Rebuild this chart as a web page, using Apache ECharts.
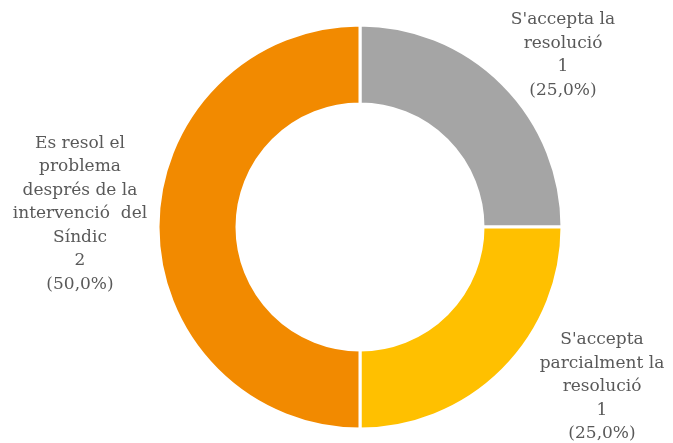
<!DOCTYPE html>
<html>
<head>
<meta charset="utf-8">
<script src="https://cdn.jsdelivr.net/npm/echarts@6/dist/echarts.min.js"></script>
<style>
  html, body { margin: 0; padding: 0; background: #fff; }
  #chart { width: 673px; height: 443px; }
</style>
</head>
<body>
<div id="chart"></div>
<script>
// dades
const categories = [
  "S'accepta la resolució",
  "S'accepta parcialment la resolució",
  "Es resol el problema després de la intervenció del Síndic"
];
const labelText = [
  "S'accepta la\nresolució",
  "S'accepta\nparcialment la\nresolució",
  "Es resol el\nproblema\ndesprés de la\nintervenció  del\nSíndic"
];
const values = [1, 1, 2];
const colors = ['#A5A5A5', '#FFC000', '#F28A00'];

// posicions de les etiquetes
const labelPos = [
  [563, 55],
  [602, 387],
  [80, 214]
];

const chart = echarts.init(document.getElementById('chart'));
const total = values.reduce((a, b) => a + b, 0);

chart.setOption({
  animation: false,
  series: [
    {
      type: 'pie',
      center: [360, 227],
      radius: [123, 202],
      startAngle: 90,
      clockwise: true,
      data: categories.map((c, i) => ({
        name: c,
        value: values[i],
        itemStyle: { color: colors[i] }
      })),
      itemStyle: {
        borderColor: '#fff',
        borderWidth: 3
      },
      labelLine: { show: false },
      label: {
        show: true,
        position: 'outside',
        overflow: 'none',
        fontFamily: 'DejaVu Serif',
        fontSize: 17,
        lineHeight: 23.5,
        color: '#595959',
        align: 'center',
        formatter: (p) => {
          const pct = (p.value / total * 100).toFixed(1).replace('.', ',');
          return labelText[p.dataIndex] + '\n' + p.value + '\n(' + pct + '%)';
        }
      },
      labelLayout: (params) => ({
        x: labelPos[params.dataIndex][0],
        y: labelPos[params.dataIndex][1],
        align: 'center',
        verticalAlign: 'middle'
      })
    }
  ]
});
</script>
</body>
</html>
